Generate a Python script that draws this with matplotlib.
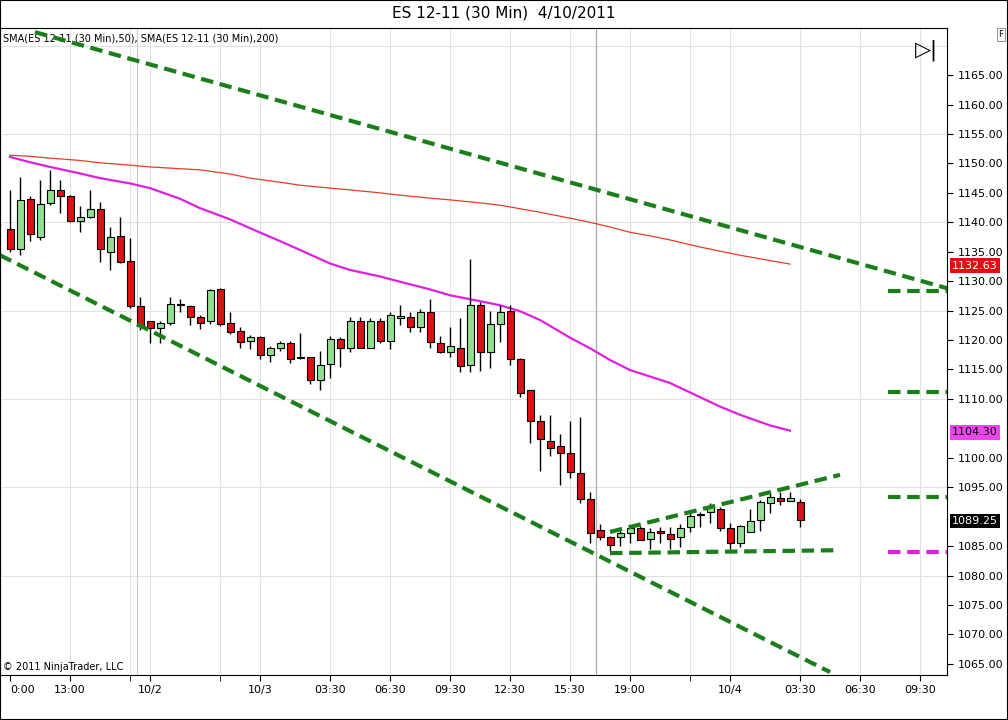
import numpy as np
import matplotlib
matplotlib.use("Agg")
import matplotlib.pyplot as plt

# OHLC bars (30 min)
opens = [1138.9, 1135.5, 1144.0, 1137.5, 1143.3, 1145.5, 1144.5, 1140.3, 1140.9, 1142.2,
         1134.9, 1137.7, 1133.4, 1125.8, 1123.2, 1122.0, 1122.9, 1126.0, 1125.8, 1123.9,
         1123.2, 1128.7, 1122.9, 1121.5, 1119.8, 1120.5, 1117.5, 1118.7, 1119.5, 1116.9,
         1117.1, 1113.2, 1115.9, 1120.2, 1118.7, 1123.2, 1118.7, 1123.2, 1119.8, 1123.8,
         1123.9, 1122.2, 1124.8, 1119.5, 1118.0, 1118.7, 1115.8, 1126.0, 1118.0, 1122.7,
         1124.9, 1116.8, 1111.5, 1106.3, 1102.9, 1102.0, 1100.8, 1097.4, 1093.0, 1087.7,
         1086.6, 1086.6, 1087.2, 1088.1, 1086.2, 1087.6, 1087.1, 1086.6, 1088.3, 1090.2,
         1090.8, 1091.3, 1088.1, 1085.5, 1087.4, 1089.4, 1092.3, 1093.1, 1092.7, 1092.5]
highs = [1145.5, 1147.7, 1144.5, 1147.2, 1148.9, 1147.2, 1144.7, 1142.8, 1145.5, 1143.4,
         1139.2, 1140.9, 1137.3, 1127.3, 1123.3, 1123.2, 1127.3, 1127.0, 1126.0, 1124.2,
         1128.7, 1128.8, 1124.8, 1122.2, 1120.9, 1120.6, 1119.0, 1119.8, 1119.8, 1121.2,
         1117.2, 1118.1, 1120.7, 1120.5, 1123.9, 1123.9, 1123.7, 1123.7, 1124.8, 1126.0,
         1124.8, 1125.3, 1127.0, 1120.7, 1122.2, 1123.7, 1133.8, 1126.5, 1124.9, 1126.0,
         1126.0, 1117.0, 1111.5, 1107.3, 1107.3, 1104.0, 1106.3, 1106.9, 1094.2, 1088.8,
         1086.7, 1088.3, 1088.4, 1088.4, 1088.1, 1088.3, 1088.3, 1088.8, 1090.6, 1090.8,
         1092.3, 1091.7, 1089.0, 1088.6, 1091.3, 1092.8, 1094.1, 1094.2, 1094.2, 1093.0]
lows = [1134.9, 1134.4, 1136.8, 1137.0, 1142.9, 1141.6, 1140.0, 1138.3, 1140.7, 1133.3,
        1131.9, 1133.0, 1125.5, 1121.7, 1119.5, 1119.5, 1122.5, 1124.8, 1122.6, 1121.9,
        1122.7, 1122.4, 1121.0, 1118.6, 1118.5, 1116.8, 1116.3, 1118.1, 1116.1, 1116.8,
        1112.5, 1111.5, 1113.6, 1115.4, 1118.0, 1118.6, 1118.6, 1119.5, 1118.4, 1122.6,
        1121.4, 1121.4, 1118.6, 1117.8, 1117.1, 1114.6, 1114.6, 1114.7, 1115.3, 1119.7,
        1115.8, 1110.4, 1102.5, 1097.8, 1100.3, 1095.4, 1096.6, 1092.3, 1085.5, 1086.0,
        1084.2, 1085.0, 1085.5, 1086.0, 1084.5, 1085.5, 1084.5, 1084.9, 1087.4, 1088.3,
        1088.9, 1087.6, 1084.5, 1084.9, 1087.6, 1087.6, 1090.6, 1092.0, 1092.6, 1088.3]
closes = [1135.5, 1143.8, 1138.0, 1143.1, 1145.5, 1144.5, 1140.2, 1140.9, 1142.2, 1135.5,
          1137.5, 1133.3, 1125.8, 1122.4, 1122.0, 1122.9, 1126.1, 1126.2, 1123.9, 1122.9,
          1128.5, 1122.7, 1121.4, 1119.7, 1120.5, 1117.5, 1118.7, 1119.5, 1116.8, 1117.1,
          1113.2, 1115.8, 1120.2, 1118.7, 1123.2, 1118.7, 1123.2, 1119.8, 1124.3, 1124.1,
          1122.2, 1124.8, 1119.7, 1118.0, 1119.0, 1115.6, 1126.0, 1118.0, 1122.7, 1124.8,
          1116.8, 1111.0, 1106.3, 1103.2, 1101.7, 1100.8, 1097.6, 1093.0, 1087.2, 1086.6,
          1085.2, 1087.2, 1088.1, 1086.1, 1087.4, 1087.2, 1086.2, 1088.1, 1090.1, 1090.4,
          1091.7, 1088.1, 1085.5, 1088.4, 1089.3, 1092.5, 1093.4, 1092.7, 1093.1, 1089.4]

# moving averages (sampled along the bars)
sma_idx = [0, 2, 4, 7, 9, 12, 14, 17, 19, 22, 24, 27, 29, 32, 34, 37, 39, 42, 44, 47,
           49, 51, 53, 56, 58, 60, 62, 64, 66, 69, 71, 73, 76, 78]
sma50 = [1151.1, 1150.2, 1149.4, 1148.3, 1147.5, 1146.6, 1145.8, 1144.0, 1142.4, 1140.5,
         1139.0, 1136.8, 1135.3, 1133.0, 1131.9, 1130.8, 1129.9, 1128.6, 1127.6, 1126.6,
         1125.9, 1124.9, 1123.4, 1120.4, 1118.6, 1116.6, 1114.9, 1113.8, 1112.7, 1110.3,
         1108.7, 1107.3, 1105.5, 1104.6]
sma200 = [1151.4, 1151.2, 1150.9, 1150.5, 1150.1, 1149.7, 1149.4, 1149.1, 1148.9, 1148.2,
          1147.5, 1146.8, 1146.3, 1145.8, 1145.5, 1145.0, 1144.6, 1144.1, 1143.8, 1143.3,
          1142.9, 1142.3, 1141.7, 1140.7, 1140.0, 1139.2, 1138.3, 1137.7, 1137.0, 1135.8,
          1135.1, 1134.4, 1133.5, 1132.9]

# hand drawn trend lines: (x0, y0, x1, y1)
trend_lines = [(2.5, 1172.3, 93.7, 1128.8),
               (-1, 1134.4, 82, 1063.6),
               (60, 1087.4, 83, 1097.1),
               (60, 1083.8, 83, 1084.3)]
levels = [1128.3, 1111.2, 1093.4]
magenta_level = 1084.0

tick_pos = [0, 6, 14, 25, 32, 38, 44, 50, 56, 62, 72, 79, 85, 91]
tick_labels = ["0:00", "13:00", "10/2", "10/3", "03:30", "06:30", "09:30", "12:30",
               "15:30", "19:00", "10/4", "03:30", "06:30", "09:30"]
minor_pos = [12, 21, 68]
price_ticks = [v for v in range(1065, 1166, 5) if v not in (1090, 1105)]

fig = plt.figure(figsize=(10.08, 7.2), dpi=100)
ax = fig.add_axes([0.0, 45 / 720, 947 / 1008, 647 / 720])
ax.set_xlim(-1, 93.7)
ax.set_ylim(1063.1, 1173.0)

# grid
for y in range(1080, 1171, 15):
    ax.axhline(y, color="#e2e2e2", lw=0.8, zorder=0)
for x in tick_pos[1:] + minor_pos:
    ax.axvline(x, color="#e2e2e2", lw=0.8, zorder=0)
ax.axvline(58.6, color="#aaaaaa", lw=0.9, zorder=0)
ax.axvline(12.7, color="#cccccc", lw=0.8, zorder=0)

# candles
for i in range(len(opens)):
    o, h, l, c = opens[i], highs[i], lows[i], closes[i]
    col = "#90e090" if c >= o else "#dd1111"
    ax.vlines(i, l, h, color="black", lw=1, zorder=2)
    bot = min(o, c)
    hgt = max(abs(c - o), 0.15)
    ax.add_patch(plt.Rectangle((i - 0.35, bot), 0.7, hgt, facecolor=col,
                               edgecolor="black", lw=0.8, zorder=3))

ax.plot(sma_idx, sma200, color="#e83a2a", lw=0.9, zorder=1)
ax.plot(sma_idx, sma50, color="#e020e0", lw=1.6, zorder=1)

for x0, y0, x1, y1 in trend_lines:
    ax.plot([x0, x1], [y0, y1], color="#1a7f1a", lw=3, ls=(0, (3, 1.6)), zorder=4)
for y in levels:
    ax.plot([87.8, 93.7], [y, y], color="#1a7f1a", lw=3, ls=(0, (3, 1.6)), zorder=4)
ax.plot([87.8, 93.7], [magenta_level] * 2, color="#e020e0", lw=3, ls=(0, (3, 1.6)), zorder=4)

# axes styling
ax.yaxis.tick_right()
ax.set_yticks(price_ticks)
ax.set_yticklabels([f"{v:.2f}" for v in price_ticks], fontsize=8)
ax.set_xticks(tick_pos)
ax.set_xticklabels(tick_labels, fontsize=8)
ax.get_xticklabels()[0].set_horizontalalignment("left")
ax.set_xticks(minor_pos, minor=True)
ax.tick_params(axis="x", which="both", length=4)
ax.tick_params(axis="y", length=4)

# value markers on price axis
for val, col, fc in [(1132.63, "white", "#dd1111"), (1104.30, "black", "#ee44ee"),
                     (1089.25, "white", "black")]:
    ax.text(94.2, val, f"{val:.2f}", fontsize=8, color=col, va="center", ha="left",
            bbox=dict(boxstyle="square,pad=0.2", fc=fc, ec="none"), clip_on=False)

ax.text(0.003, 0.992, "SMA(ES 12-11 (30 Min),50), SMA(ES 12-11 (30 Min),200)",
        transform=ax.transAxes, fontsize=7, va="top")
ax.text(0.003, 0.008, "© 2011 NinjaTrader, LLC", transform=ax.transAxes, fontsize=7)
ax.text(0.99, 0.965, "▷|", transform=ax.transAxes, fontsize=15, ha="right", va="center")
fig.text(0.5, 0.982, "ES 12-11 (30 Min)  4/10/2011", ha="center", va="center", fontsize=11)
fig.text(0.993, 0.952, "F", fontsize=6, ha="center", va="center",
         bbox=dict(boxstyle="square,pad=0.2", fc="white", ec="gray", lw=0.6))
fig.patches.append(plt.Rectangle((0, 0), 1, 1, transform=fig.transFigure, fill=False,
                                 ec="black", lw=1.5))

fig.savefig("out.png", dpi=100)
